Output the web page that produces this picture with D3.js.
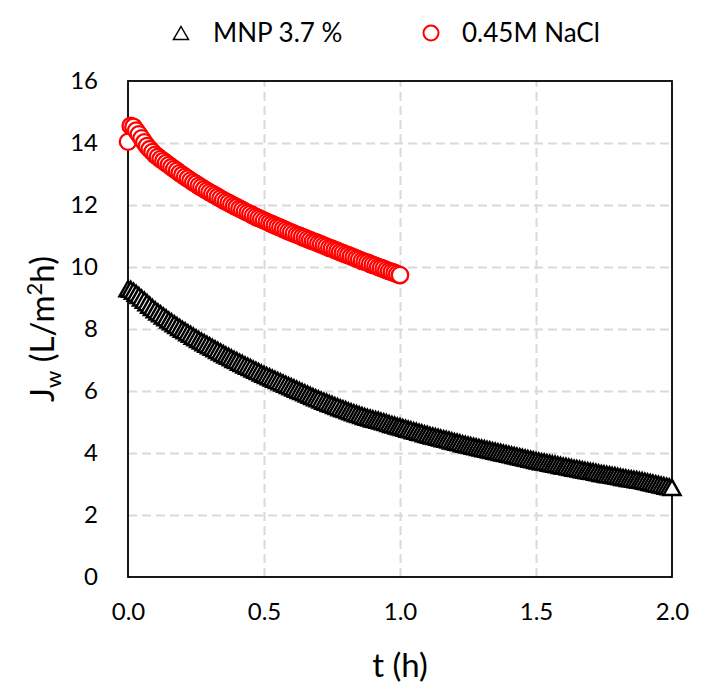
<!DOCTYPE html>
<html>
<head>
<meta charset="utf-8">
<script src="https://cdn.jsdelivr.net/npm/d3@7"></script>
<style>
  html, body { margin: 0; padding: 0; background: #fff; }
  svg { display: block; }
  text { font-family: Lato, "Open Sans", sans-serif; fill: #000; }
</style>
</head>
<body>
<svg id="chart" width="711" height="700"></svg>
<script>
// ---- data ----
const seriesNames = ["MNP 3.7 %", "0.45M NaCl"];

const mnpTime = [
  0.00,0.01,0.02,0.03,0.04,0.05,0.06,0.07,0.08,0.09,
  0.10,0.11,0.12,0.13,0.14,0.15,0.16,0.17,0.18,0.19,
  0.20,0.21,0.22,0.23,0.24,0.25,0.26,0.27,0.28,0.29,
  0.30,0.31,0.32,0.33,0.34,0.35,0.36,0.37,0.38,0.39,
  0.40,0.41,0.42,0.43,0.44,0.45,0.46,0.47,0.48,0.49,
  0.50,0.51,0.52,0.53,0.54,0.55,0.56,0.57,0.58,0.59,
  0.60,0.61,0.62,0.63,0.64,0.65,0.66,0.67,0.68,0.69,
  0.70,0.71,0.72,0.73,0.74,0.75,0.76,0.77,0.78,0.79,
  0.80,0.81,0.82,0.83,0.84,0.85,0.86,0.87,0.88,0.89,
  0.90,0.91,0.92,0.93,0.94,0.95,0.96,0.97,0.98,0.99,
  1.00,1.01,1.02,1.03,1.04,1.05,1.06,1.07,1.08,1.09,
  1.10,1.11,1.12,1.13,1.14,1.15,1.16,1.17,1.18,1.19,
  1.20,1.21,1.22,1.23,1.24,1.25,1.26,1.27,1.28,1.29,
  1.30,1.31,1.32,1.33,1.34,1.35,1.36,1.37,1.38,1.39,
  1.40,1.41,1.42,1.43,1.44,1.45,1.46,1.47,1.48,1.49,
  1.50,1.51,1.52,1.53,1.54,1.55,1.56,1.57,1.58,1.59,
  1.60,1.61,1.62,1.63,1.64,1.65,1.66,1.67,1.68,1.69,
  1.70,1.71,1.72,1.73,1.74,1.75,1.76,1.77,1.78,1.79,
  1.80,1.81,1.82,1.83,1.84,1.85,1.86,1.87,1.88,1.89,
  1.90,1.91,1.92,1.93,1.94,1.95,1.96,1.97,1.98,1.99,
  2.00
];
const mnpFlux = [
  9.30,9.28,9.22,9.15,9.08,9.00,8.93,8.85,8.77,8.69,
  8.62,8.55,8.49,8.42,8.36,8.29,8.23,8.17,8.11,8.05,
  7.99,7.94,7.88,7.83,7.77,7.72,7.66,7.61,7.56,7.51,
  7.46,7.41,7.36,7.31,7.26,7.21,7.16,7.12,7.07,7.02,
  6.98,6.93,6.89,6.84,6.80,6.76,6.71,6.67,6.63,6.58,
  6.54,6.50,6.46,6.42,6.38,6.34,6.30,6.26,6.22,6.18,
  6.14,6.10,6.06,6.02,5.98,5.94,5.90,5.86,5.82,5.78,
  5.75,5.71,5.67,5.64,5.60,5.57,5.53,5.50,5.46,5.43,
  5.40,5.36,5.33,5.30,5.27,5.24,5.21,5.18,5.15,5.13,
  5.10,5.08,5.06,5.03,5.01,4.98,4.95,4.92,4.90,4.87,
  4.85,4.82,4.80,4.77,4.75,4.72,4.70,4.67,4.65,4.62,
  4.60,4.57,4.55,4.53,4.51,4.48,4.46,4.44,4.42,4.39,
  4.37,4.35,4.33,4.30,4.28,4.26,4.24,4.22,4.20,4.18,
  4.16,4.14,4.12,4.10,4.08,4.06,4.04,4.02,4.00,3.98,
  3.96,3.94,3.92,3.90,3.88,3.86,3.84,3.82,3.80,3.78,
  3.76,3.74,3.72,3.71,3.69,3.67,3.65,3.64,3.62,3.60,
  3.58,3.57,3.55,3.53,3.51,3.50,3.48,3.46,3.44,3.43,
  3.41,3.40,3.38,3.36,3.34,3.33,3.31,3.30,3.28,3.27,
  3.25,3.23,3.21,3.20,3.18,3.17,3.15,3.14,3.12,3.11,
  3.09,3.07,3.05,3.03,3.01,2.99,2.97,2.95,2.93,2.91,
  2.89
];

const naclTime = [
  0.00,0.01,0.02,0.03,0.04,0.05,0.06,0.07,0.08,0.09,
  0.10,0.11,0.12,0.13,0.14,0.15,0.16,0.17,0.18,0.19,
  0.20,0.21,0.22,0.23,0.24,0.25,0.26,0.27,0.28,0.29,
  0.30,0.31,0.32,0.33,0.34,0.35,0.36,0.37,0.38,0.39,
  0.40,0.41,0.42,0.43,0.44,0.45,0.46,0.47,0.48,0.49,
  0.50,0.51,0.52,0.53,0.54,0.55,0.56,0.57,0.58,0.59,
  0.60,0.61,0.62,0.63,0.64,0.65,0.66,0.67,0.68,0.69,
  0.70,0.71,0.72,0.73,0.74,0.75,0.76,0.77,0.78,0.79,
  0.80,0.81,0.82,0.83,0.84,0.85,0.86,0.87,0.88,0.89,
  0.90,0.91,0.92,0.93,0.94,0.95,0.96,0.97,0.98,0.99,
  1.00
];
const naclFlux = [
  14.04,14.55,14.52,14.40,14.28,14.15,14.02,13.90,13.80,13.71,
  13.62,13.55,13.48,13.42,13.35,13.29,13.22,13.16,13.10,13.03,
  12.97,12.91,12.85,12.79,12.73,12.68,12.62,12.57,12.51,12.46,
  12.41,12.36,12.31,12.26,12.21,12.16,12.11,12.07,12.02,11.97,
  11.93,11.88,11.84,11.79,11.75,11.71,11.66,11.62,11.58,11.54,
  11.50,11.46,11.42,11.38,11.34,11.30,11.27,11.23,11.19,11.15,
  11.12,11.08,11.04,11.01,10.97,10.94,10.90,10.87,10.83,10.80,
  10.76,10.73,10.69,10.66,10.62,10.59,10.55,10.52,10.48,10.45,
  10.41,10.38,10.34,10.31,10.27,10.24,10.20,10.17,10.14,10.10,
  10.07,10.04,10.00,9.97,9.94,9.90,9.87,9.84,9.81,9.77,
  9.74
];

const xTickValues = [0, 0.5, 1.0, 1.5, 2.0];
const yTickValues = [0, 2, 4, 6, 8, 10, 12, 14, 16];

// ---- layout ----
const svg = d3.select("#chart");
const pL = 128, pR = 672, pT = 81, pB = 577;
const x = d3.scaleLinear().domain([0, 2]).range([pL, pR]);
const y = d3.scaleLinear().domain([0, 16]).range([pB, pT]);

// gridlines
const gridX = d3.axisBottom(x).tickValues([0.5, 1.0, 1.5]).tickSize(-(pB - pT)).tickFormat("");
const gridY = d3.axisLeft(y).tickValues([2, 4, 6, 8, 10, 12, 14]).tickSize(-(pR - pL)).tickFormat("");
const gx = svg.append("g").attr("transform", `translate(0,${pB})`).call(gridX);
const gy = svg.append("g").attr("transform", `translate(${pL},0)`).call(gridY);
[gx, gy].forEach(g => {
  g.select(".domain").remove();
  g.selectAll(".tick line")
    .attr("stroke", "#d9d9d9")
    .attr("stroke-width", 2)
    .attr("stroke-dasharray", "9,5");
});

// axes with labels only
const xAxis = d3.axisBottom(x).tickValues(xTickValues).tickFormat(d3.format(".1f")).tickSize(0).tickPadding(26);
const yAxis = d3.axisLeft(y).tickValues(yTickValues).tickFormat(d3.format("d")).tickSize(0).tickPadding(30);
const ax = svg.append("g").attr("transform", `translate(0,${pB})`).call(xAxis);
const ay = svg.append("g").attr("transform", `translate(${pL},0)`).call(yAxis);
[ax, ay].forEach(g => {
  g.select(".domain").remove();
  g.selectAll("text").attr("font-family", "Lato, sans-serif").attr("font-size", 24).attr("fill", "#000");
});

// plot border
svg.append("rect")
  .attr("x", pL).attr("y", pT)
  .attr("width", pR - pL).attr("height", pB - pT)
  .attr("fill", "none").attr("stroke", "#000").attr("stroke-width", 1.8);

// triangle marker path (centered at bounding-box center)
const triPath = (w, h) => `M0,${-h / 2}L${w / 2},${h / 2}L${-w / 2},${h / 2}Z`;

// MNP series - triangles
const mnpData = mnpTime.map((t, i) => ({ t, v: mnpFlux[i] }));
svg.append("g").selectAll("path")
  .data(mnpData).join("path")
  .attr("d", triPath(17, 15))
  .attr("transform", d => `translate(${x(d.t)},${y(d.v)})`)
  .attr("fill", "#fff").attr("stroke", "#000").attr("stroke-width", 2.5)
  .attr("stroke-linejoin", "miter");

// NaCl series - circles
const naclData = naclTime.map((t, i) => ({ t, v: naclFlux[i] }));
svg.append("g").selectAll("circle")
  .data(naclData).join("circle")
  .attr("cx", d => x(d.t)).attr("cy", d => y(d.v))
  .attr("r", 8.2).attr("fill", "#fff").attr("stroke", "#ff0000").attr("stroke-width", 2.3);

// axis titles
svg.append("text")
  .attr("x", (pL + pR) / 2).attr("y", 677)
  .attr("text-anchor", "middle").attr("font-size", 33)
  .text("t (h)");

const yt = svg.append("text")
  .attr("transform", `translate(54,${(pT + pB) / 2}) rotate(-90)`)
  .attr("text-anchor", "middle").attr("font-size", 33);
yt.append("tspan").text("J");
yt.append("tspan").attr("font-size", 22).attr("dy", 7).text("w");
yt.append("tspan").attr("dy", -7).text(" (L/m");
yt.append("tspan").attr("font-size", 22).attr("dy", -12).text("2");
yt.append("tspan").attr("dy", 12).text("h)");

// legend
const leg = svg.append("g");
leg.append("path").attr("d", triPath(15, 13))
  .attr("transform", "translate(181,33)")
  .attr("fill", "#fff").attr("stroke", "#000").attr("stroke-width", 1.5);
leg.append("text").attr("x", 213).attr("y", 42).attr("font-size", 26).text(seriesNames[0]);
leg.append("circle").attr("cx", 431).attr("cy", 33).attr("r", 7.5)
  .attr("fill", "#fff").attr("stroke", "#ff0000").attr("stroke-width", 2);
leg.append("text").attr("x", 462).attr("y", 42).attr("font-size", 26).text(seriesNames[1]);
</script>
</body>
</html>
